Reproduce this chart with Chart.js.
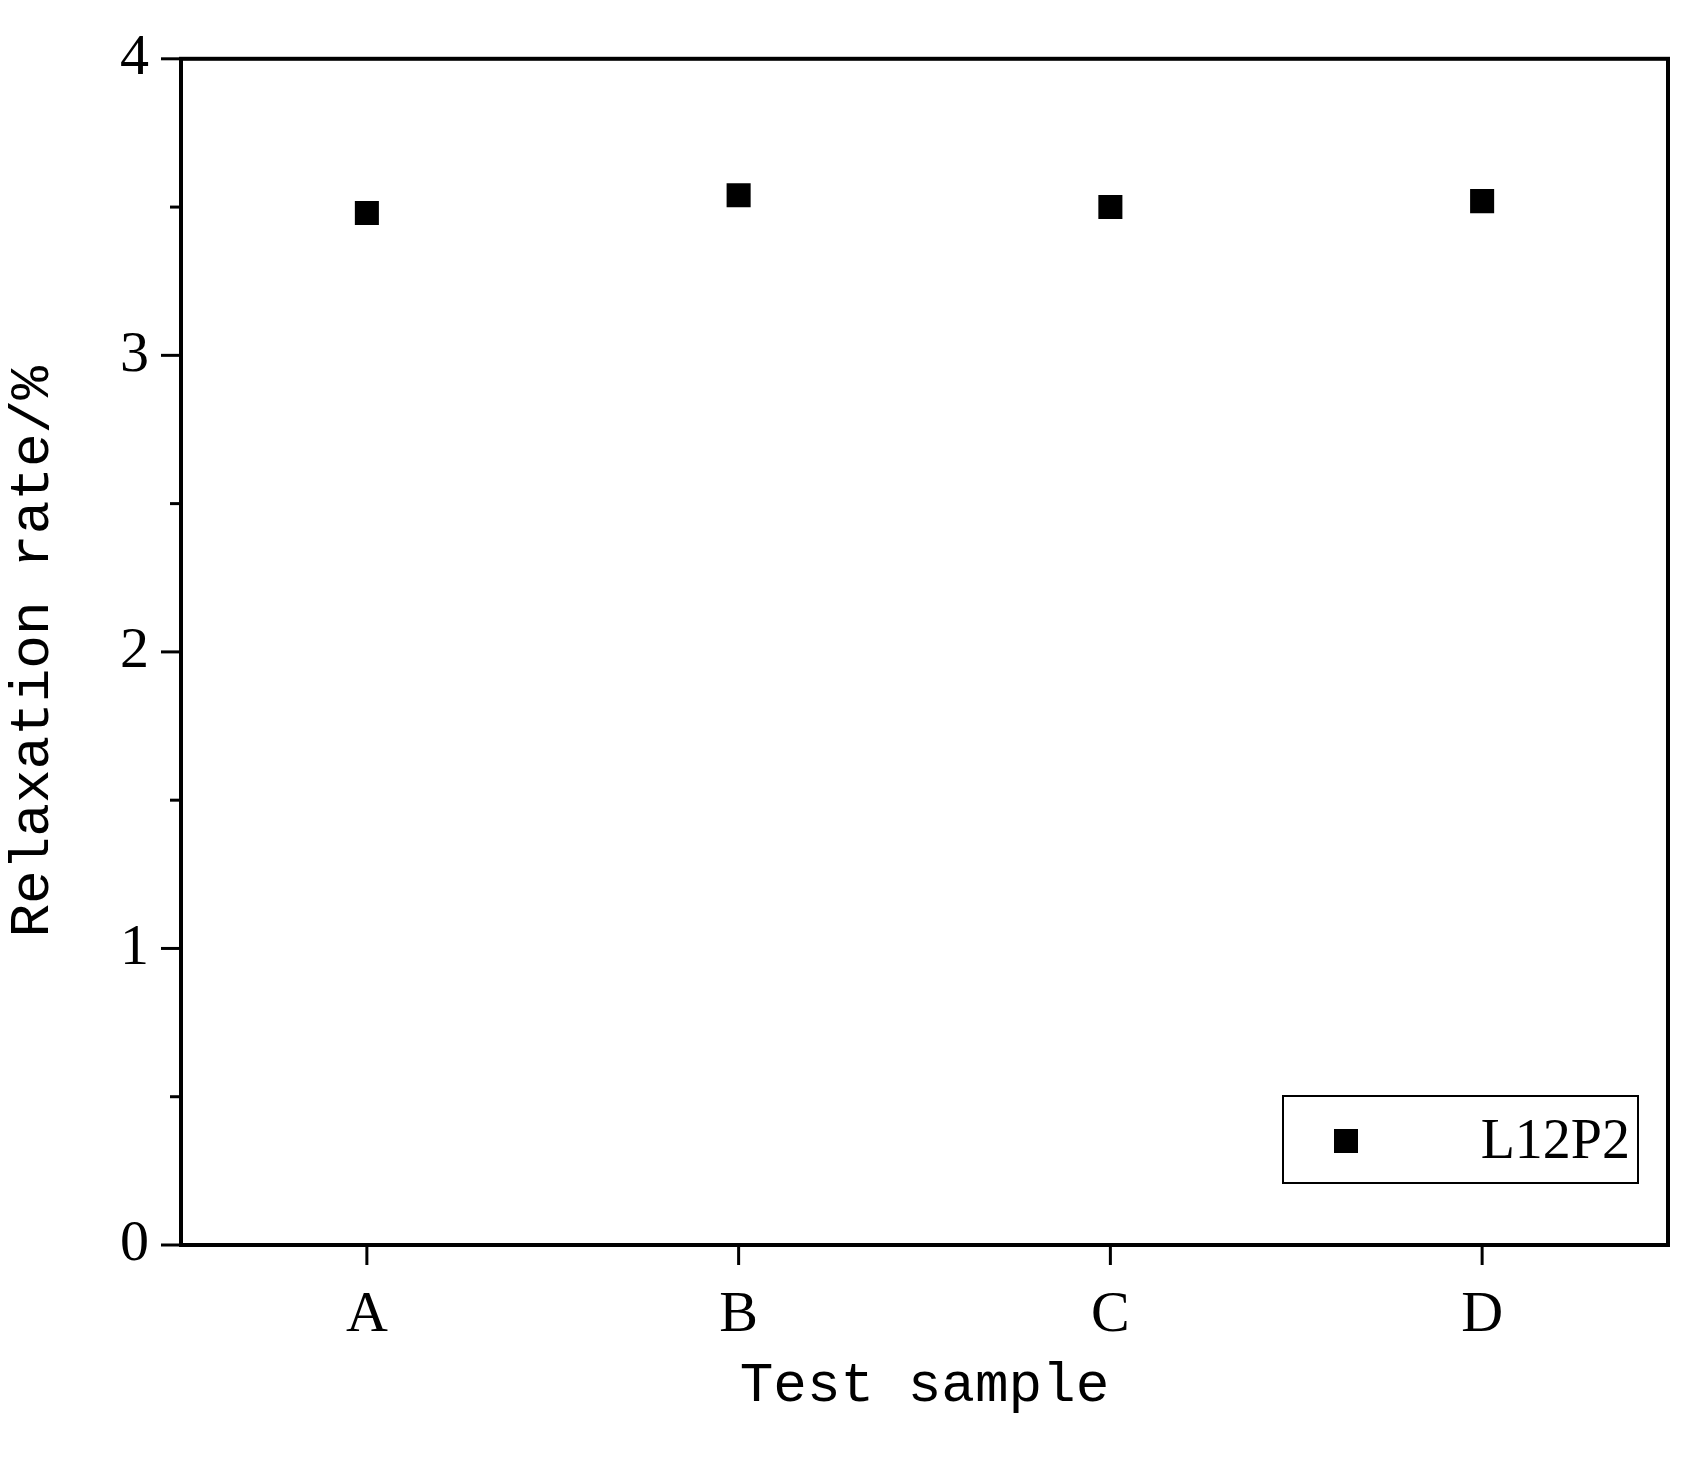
<!DOCTYPE html>
<html><head><meta charset="utf-8">
<script src="https://cdn.jsdelivr.net/npm/chart.js@4"></script>
<style>html,body{margin:0;background:#fff}#w{width:1696px;height:1460px}</style>
</head><body><div id="w"><canvas id="c"></canvas></div>
<script>
const categories = ['A','B','C','D'];
const seriesName = 'L12P2';
const values = [3.48, 3.54, 3.50, 3.52];
const yTicks = [0,1,2,3,4];

const SERIF = '"Liberation Serif", serif';
const MONO = '"Liberation Mono", monospace';

const deco = {
  id:'deco',
  afterDraw(ch){
    const ctx=ch.ctx, a=ch.chartArea, x=ch.scales.x, y=ch.scales.y;
    ctx.save();
    ctx.strokeStyle='#000';
    ctx.lineWidth=4;
    ctx.strokeRect(a.left,a.top,a.right-a.left,a.bottom-a.top);
    ctx.lineWidth=3;
    for(let v=0; v<=4.001; v+=0.5){
      const py=y.getPixelForValue(v);
      const len = Math.abs(v-Math.round(v))<1e-6 ? 20 : 11;
      ctx.beginPath(); ctx.moveTo(a.left,py); ctx.lineTo(a.left-len,py); ctx.stroke();
    }
    categories.forEach((c,i)=>{
      const px=x.getPixelForValue(i);
      ctx.beginPath(); ctx.moveTo(px,a.bottom); ctx.lineTo(px,a.bottom+20); ctx.stroke();
    });
    // legend box
    const lx=1283, ly=1096, lw=355, lh=87;
    ctx.lineWidth=2;
    ctx.strokeRect(lx,ly,lw,lh);
    ctx.fillStyle='#000';
    ctx.fillRect(1346-12,1141-12,24,24);
    ctx.font='56px '+SERIF;
    ctx.textAlign='right'; ctx.textBaseline='middle';
    ctx.fillText(ch.data.datasets[0].label,1630,1143);
    ctx.restore();
  }
};

new Chart(document.getElementById('c'),{
  type:'line',
  data:{labels:categories,datasets:[{label:seriesName,data:values,showLine:false,
    pointStyle:'rect',pointRadius:17,pointHoverRadius:17,backgroundColor:'#000',borderColor:'#000',borderWidth:0}]},
  options:{responsive:true,maintainAspectRatio:false,animation:false,
    layout:{padding:{top:35,right:28,bottom:0,left:0}},
    plugins:{legend:{display:false},tooltip:{enabled:false}},
    scales:{
      x:{offset:true,grid:{display:false},border:{display:false},
        ticks:{color:'#000',font:{family:SERIF,size:58},padding:28},
        title:{display:true,text:'Test sample',color:'#000',font:{family:MONO,size:56},padding:{top:8,bottom:40}},
        afterFit(s){s.height=215;}},
      y:{min:0,max:4,grid:{display:false},border:{display:false},
        afterBuildTicks(s){s.ticks=yTicks.map(v=>({value:v}));},
        ticks:{color:'#000',font:{family:SERIF,size:58},padding:24},
        title:{display:true,text:'Relaxation rate/%',color:'#000',font:{family:MONO,size:56},padding:{top:0,bottom:10}},
        afterFit(s){s.width=181;}}
    }
  },
  plugins:[deco]
});
</script></body></html>
